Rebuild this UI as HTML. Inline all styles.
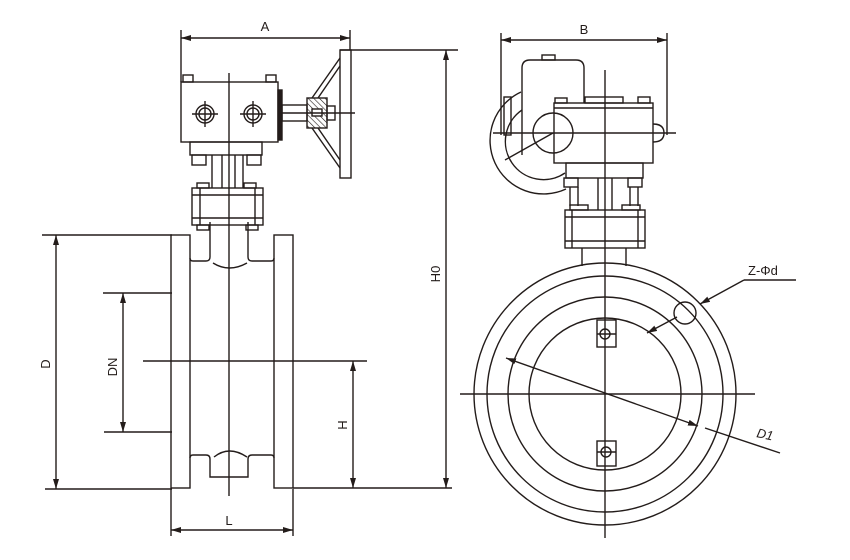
<!DOCTYPE html>
<html><head><meta charset="utf-8"><style>
html,body{margin:0;padding:0;background:#fff;}
svg{display:block}
text{font-family:"Liberation Sans",sans-serif;fill:#231c1a;}
</style></head><body>
<svg width="850" height="560" viewBox="0 0 850 560" xmlns="http://www.w3.org/2000/svg">
<defs>
<marker id="ar" viewBox="0 0 10 6" refX="10" refY="3" markerWidth="10" markerHeight="6" orient="auto-start-reverse" markerUnits="userSpaceOnUse">
<path d="M0,0 L10,3 L0,6 Z" fill="#231c1a"/></marker>
<pattern id="hat" width="4" height="4" patternUnits="userSpaceOnUse" patternTransform="rotate(-45)">
<line x1="0" y1="0" x2="0" y2="4" stroke="#231c1a" stroke-width="1.2"/></pattern>
</defs>
<g stroke="#231c1a" stroke-width="1.4" fill="none">
<line x1="181" y1="30" x2="181" y2="82"/>
<line x1="350" y1="30" x2="350" y2="50"/>
<line x1="181" y1="38" x2="350" y2="38" marker-start="url(#ar)" marker-end="url(#ar)"/>
<line x1="340" y1="50" x2="458" y2="50"/>
<line x1="446" y1="50" x2="446" y2="488" marker-start="url(#ar)" marker-end="url(#ar)"/>
<line x1="42" y1="235" x2="172" y2="235"/>
<line x1="45" y1="489" x2="172" y2="489"/>
<line x1="293" y1="488" x2="452" y2="488"/>
<line x1="56" y1="235" x2="56" y2="489" marker-start="url(#ar)" marker-end="url(#ar)"/>
<line x1="103" y1="293" x2="172" y2="293"/>
<line x1="104" y1="432" x2="172" y2="432"/>
<line x1="123" y1="293" x2="123" y2="432" marker-start="url(#ar)" marker-end="url(#ar)"/>
<line x1="353" y1="361" x2="353" y2="488" marker-start="url(#ar)" marker-end="url(#ar)"/>
<line x1="143" y1="361" x2="367" y2="361"/>
<line x1="171" y1="489" x2="171" y2="536"/>
<line x1="293" y1="489" x2="293" y2="536"/>
<line x1="171" y1="530" x2="293" y2="530" marker-start="url(#ar)" marker-end="url(#ar)"/>
<rect x="171" y="235" width="19" height="253"/>
<rect x="274" y="235" width="19" height="253"/>
<path d="M190,258 Q190,261 193,261 L206,261 Q210,261 210,257 L210,222"/>
<path d="M274,258 Q274,261 271,261 L252,261 Q248,261 248,257 L248,222"/>
<path d="M213,263 Q229,273 247,263"/>
<path d="M190,458 Q190,455 193,455 L206,455 Q210,455 210,459 L210,477 L248,477 L248,459 Q248,455 252,455 L271,455 Q274,455 274,458"/>
<path d="M214,457 Q229,445 247,457"/>
<line x1="229" y1="73" x2="229" y2="496"/>
<rect x="192" y="188" width="71" height="37"/>
<line x1="192" y1="195" x2="263" y2="195"/>
<line x1="192" y1="218" x2="263" y2="218"/>
<line x1="200" y1="188" x2="200" y2="225"/>
<line x1="255" y1="188" x2="255" y2="225"/>
<rect x="197" y="183" width="12" height="5"/><rect x="244" y="183" width="12" height="5"/>
<rect x="197" y="225" width="12" height="5"/><rect x="246" y="225" width="12" height="5"/>
<line x1="212" y1="155" x2="212" y2="188"/><line x1="222" y1="155" x2="222" y2="188"/>
<line x1="235" y1="155" x2="235" y2="188"/><line x1="243" y1="155" x2="243" y2="188"/>
<rect x="190" y="142" width="72" height="13"/>
<rect x="192" y="155" width="14" height="10"/><rect x="247" y="155" width="14" height="10"/>
<rect x="181" y="82" width="97" height="60"/>
<rect x="183" y="75" width="10" height="7"/><rect x="266" y="75" width="10" height="7"/>
<circle cx="205" cy="114" r="9"/><circle cx="205" cy="114" r="6"/>
<line x1="192" y1="114" x2="218" y2="114"/><line x1="205" y1="101" x2="205" y2="127"/>
<circle cx="253" cy="114" r="9"/><circle cx="253" cy="114" r="6"/>
<line x1="240" y1="114" x2="266" y2="114"/><line x1="253" y1="101" x2="253" y2="127"/>
<rect x="278" y="90" width="4" height="50" fill="#231c1a"/>
<rect x="282" y="105" width="25" height="16"/>
<rect x="307" y="98" width="20" height="30" fill="url(#hat)"/>
<rect x="312" y="109" width="10" height="7" fill="#fff"/>
<rect x="327" y="106" width="8" height="14"/>
<line x1="282" y1="113" x2="355" y2="113"/>
<rect x="340" y="50" width="11" height="128"/>
<line x1="312" y1="98" x2="340" y2="58"/><line x1="318" y1="98" x2="340" y2="66"/>
<line x1="312" y1="128" x2="340" y2="168"/><line x1="318" y1="128" x2="340" y2="160"/>
<line x1="501" y1="33" x2="501" y2="135"/>
<line x1="667" y1="33" x2="667" y2="135"/>
<line x1="501" y1="40" x2="667" y2="40" marker-start="url(#ar)" marker-end="url(#ar)"/>
<path d="M522,155 L522,68 Q522,60 530,60 L576,60 Q584,60 584,68 L584,103"/>
<rect x="542" y="55" width="13" height="5"/>
<rect x="554" y="103" width="99" height="60"/>
<line x1="554" y1="108" x2="653" y2="108"/>
<rect x="555" y="98" width="12" height="5"/><rect x="585" y="97" width="38" height="6"/><rect x="638" y="97" width="12" height="6"/>
<circle cx="553" cy="133" r="20"/>
<rect x="504" y="97" width="7" height="38"/>
<path d="M521,92 A48,48 0 0 0 566,189"/>
<path d="M522,110 A36,36 0 0 0 565,173"/>
<line x1="553" y1="133" x2="505" y2="160"/>
<path d="M653,124 Q664,124 664,133 Q664,142 653,142"/>
<line x1="493" y1="133" x2="676" y2="133"/>
<rect x="566" y="163" width="77" height="15"/>
<rect x="564" y="178" width="14" height="9"/><rect x="628" y="178" width="14" height="9"/>
<line x1="570" y1="187" x2="570" y2="206"/><line x1="578" y1="187" x2="578" y2="206"/>
<line x1="630" y1="187" x2="630" y2="206"/><line x1="638" y1="187" x2="638" y2="206"/>
<line x1="598" y1="178" x2="598" y2="210"/><line x1="612" y1="178" x2="612" y2="210"/>
<rect x="570" y="205" width="18" height="5"/><rect x="622" y="205" width="18" height="5"/>
<rect x="565" y="210" width="80" height="38"/>
<line x1="565" y1="217" x2="645" y2="217"/><line x1="565" y1="241" x2="645" y2="241"/>
<line x1="572" y1="210" x2="572" y2="248"/><line x1="638" y1="210" x2="638" y2="248"/>
<line x1="582" y1="248" x2="582" y2="266"/><line x1="626" y1="248" x2="626" y2="266"/>
<circle cx="605" cy="394" r="131"/>
<circle cx="605" cy="394" r="118"/>
<circle cx="605" cy="394" r="97"/>
<circle cx="605" cy="394" r="76"/>
<line x1="605" y1="70" x2="605" y2="538"/>
<line x1="460" y1="394" x2="755" y2="394"/>
<rect x="597" y="320" width="19" height="27"/><circle cx="605" cy="334" r="5"/><line x1="597" y1="334" x2="616" y2="334"/>
<rect x="597" y="441" width="19" height="25"/><circle cx="606" cy="452" r="5"/><line x1="597" y1="452" x2="616" y2="452"/>
<circle cx="685" cy="313" r="11"/>
<line x1="796" y1="280" x2="744" y2="280"/>
<line x1="744" y1="280" x2="700" y2="304" marker-end="url(#ar)"/>
<line x1="647" y1="333" x2="677" y2="317" marker-start="url(#ar)"/>
<line x1="506" y1="358" x2="698" y2="426" marker-start="url(#ar)" marker-end="url(#ar)"/>
<line x1="705" y1="428" x2="780" y2="453"/>
</g>
<text x="265" y="31" font-size="13" text-anchor="middle">A</text>
<text x="584" y="34" font-size="13" text-anchor="middle">B</text>
<text x="229" y="525" font-size="13" text-anchor="middle">L</text>
<text x="748" y="275" font-size="13">Z-Φd</text>
<text x="756" y="437" font-size="13" font-style="italic" transform="rotate(12 756 437)">D1</text>
<text font-size="13" text-anchor="middle" transform="translate(50 364) rotate(-90)">D</text>
<text font-size="13" text-anchor="middle" transform="translate(117 367) rotate(-90)">DN</text>
<text font-size="13" text-anchor="middle" transform="translate(347 425) rotate(-90)">H</text>
<text font-size="13" text-anchor="middle" transform="translate(440 274) rotate(-90)">H0</text>
</svg>
</body></html>
